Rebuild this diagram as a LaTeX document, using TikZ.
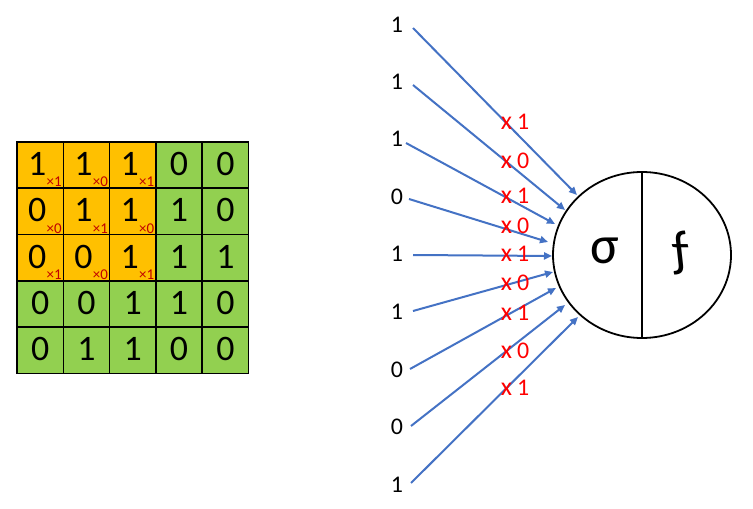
\documentclass[tikz,border=0pt]{standalone}
\usepackage{fontspec}
\setmainfont{Carlito}
\usetikzlibrary{arrows.meta,shapes.geometric}
\definecolor{kern}{HTML}{FFC000}
\definecolor{field}{HTML}{92D050}
\definecolor{wred}{HTML}{C00000}
\definecolor{arrowblue}{HTML}{4472C4}
\definecolor{xred}{HTML}{FF0000}
\tikzset{
  cell/.style={draw=black, line width=1.6bp, minimum size=46.3bp, inner sep=0pt, anchor=center},
  digit/.style={font=\fontsize{36}{36}\selectfont, inner sep=0pt},
  wsub/.style={font=\fontsize{15}{15}\selectfont, text=wred, inner sep=0pt},
  inlabel/.style={font=\fontsize{24}{24}\selectfont, inner sep=0pt},
  wlabel/.style={font=\fontsize{24}{24}\selectfont, text=xred, inner sep=0pt},
  conn/.style={draw=arrowblue, line width=2bp, -{Triangle[length=8bp,width=7bp]}},
}
\begin{document}
\begin{tikzpicture}[x=1bp,y=-1bp]
\useasboundingbox (0,0) rectangle (753,509);
% grid
\foreach \v [count=\i from 0] in {1,1,1,0,0, 0,1,1,1,0, 0,0,1,1,1, 0,0,1,1,0, 0,1,1,0,0} {
  \pgfmathtruncatemacro\r{int(\i/5)}
  \pgfmathtruncatemacro\c{mod(\i,5)}
  \pgfmathtruncatemacro\k{(\r<3)&&(\c<3)}
  \ifnum\k=1
    \node[cell, fill=kern] (c\r\c) at ({17+46.3*(\c+0.5)},{142+46.3*(\r+0.5)}) {};
    \node[digit] (d\r\c) at ([xshift=-3bp,yshift=1bp]c\r\c.center) {\v};
  \else
    \node[cell, fill=field] (c\r\c) at ({17+46.3*(\c+0.5)},{142+46.3*(\r+0.5)}) {};
    \node[digit] (d\r\c) at ([yshift=1bp]c\r\c.center) {\v};
  \fi
}
\foreach \w [count=\i from 0] in {1,0,1,0,1,0,1,0,1} {
  \pgfmathtruncatemacro\r{int(\i/3)}
  \pgfmathtruncatemacro\c{mod(\i,3)}
  \node[wsub] (w\r\c) at ([xshift=-10bp,yshift=7bp]c\r\c.south east) {×\w};
}
% neuron
\node[ellipse, draw=black, line width=1.8bp, minimum width=178bp, minimum height=166bp, inner sep=0pt] (neuron) at (642,255) {};
\draw[line width=1.8bp] (neuron.north) -- (neuron.south);
\node[font=\fontsize{54}{54}\selectfont, inner sep=0pt] (sigma) at (605,251) {σ};
\node[font=\fontsize{52}{52}\selectfont, inner sep=0pt, xslant=-0.22, transform shape] (fn) at (680,253) {ƒ};
% inputs
\foreach \v/\y/\sx/\sy/\ex/\ey/\wy/\w [count=\n] in {
  1/25/413/28/577/195/122/1,
  1/82/413/85/565/210/161/0,
  1/139/406/143/555/224/196/1,
  0/197/409/199/548/242/226/0,
  1/254/413/255/552/256/254/1,
  1/312/413/311/553/272/283/0,
  0/370/410/369/556/288/313/1,
  0/427/411/426/565/305/351/0,
  1/485/411/483/578/317/388/1} {
  \node[inlabel] (in\n) at (397,\y) {\v};
  \coordinate (s\n) at (\sx,\sy);
  \coordinate (e\n) at (\ex,\ey);
  \draw[conn] (s\n) -- (e\n);
  \node[wlabel] (wt\n) at (515,\wy) {{\fontsize{26}{26}\selectfont x}\hspace{5bp}\w};
}
\end{tikzpicture}
\end{document}
